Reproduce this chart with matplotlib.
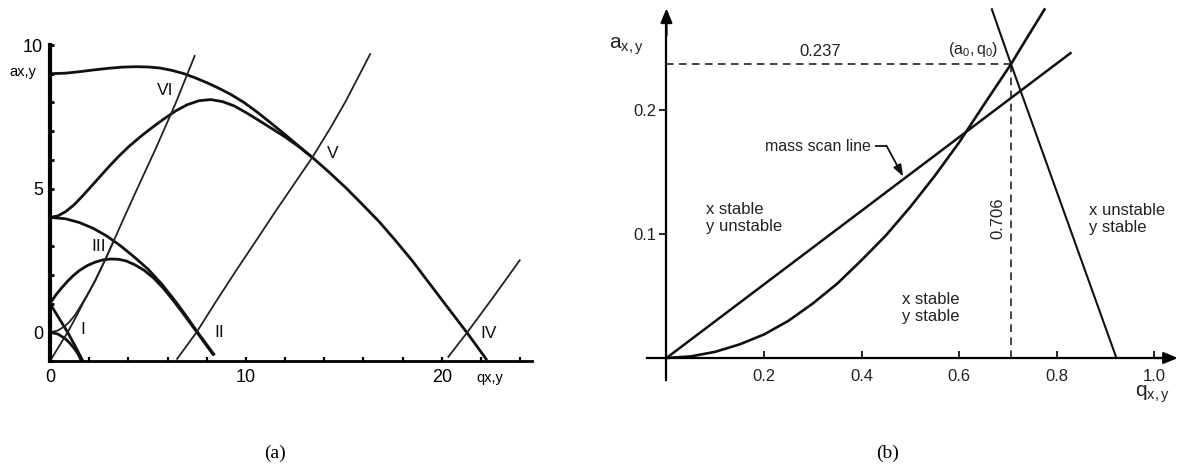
import matplotlib
matplotlib.use('Agg')
import matplotlib.pyplot as plt
import numpy as np

plt.rcParams['font.family'] = ['Liberation Sans', 'DejaVu Sans']
plt.rcParams['mathtext.fontset'] = 'custom'
plt.rcParams['mathtext.rm'] = 'Liberation Sans'
plt.rcParams['mathtext.it'] = 'Liberation Sans'

# ---------------- data: panel (a) Mathieu stability diagram ----------------
a0_q = [0, 0.4, 0.77, 1.0, 1.28, 1.45, 1.62]
a0_a = [0, -0.06, -0.22, -0.37, -0.6, -0.78, -1.03]
b1_q = [0, 0.45, 0.9, 1.3, 1.7]
b1_a = [1.0, 0.5, 0.0, -0.5, -1.03]
a1_q = [0, 0.3, 0.6, 0.9, 1.2, 1.5, 1.9, 2.3, 2.7, 3.1, 3.5, 3.9, 4.3, 4.8, 5.3,
        5.8, 6.3, 6.8, 7.5, 8.35]
a1_a = [1.0, 1.3, 1.55, 1.78, 1.98, 2.15, 2.32, 2.44, 2.52, 2.55, 2.54, 2.48, 2.36,
        2.16, 1.88, 1.52, 1.1, 0.65, 0.0, -0.8]
b2_q = [0, 0.8, 1.5, 2.2, 2.9, 3.6, 4.3, 5.0, 5.7, 6.4, 7.0, 7.5, 8.4]
b2_a = [4.0, 3.95, 3.82, 3.62, 3.35, 3.01, 2.62, 2.2, 1.68, 1.08, 0.52, 0.03, -0.8]
a2_q = [0, 0.4, 0.8, 1.2, 1.6, 2.0, 2.5, 3.0, 3.5, 4.0, 4.6, 5.2, 5.8, 6.4, 7.0, 7.6,
        8.2, 8.8, 9.4, 10.0, 10.6, 11.3, 12.0, 12.7, 13.4]
a2_a = [4.0, 4.05, 4.2, 4.42, 4.7, 5.0, 5.38, 5.76, 6.12, 6.45, 6.8, 7.12, 7.42, 7.7,
        7.92, 8.06, 8.1, 8.03, 7.88, 7.65, 7.4, 7.1, 6.8, 6.46, 6.08]
b3_q = [0, 0.8, 1.5, 2.2, 3.0, 3.7, 4.4, 5.0, 5.6, 6.2, 6.8, 7.4, 8.0, 8.6, 9.2, 9.9,
        10.6, 11.3, 12.0, 12.7, 13.4, 14.2, 15.1, 15.9, 16.8, 17.6, 18.5, 19.3, 20.2,
        21.3, 22.3]
b3_a = [9.0, 9.02, 9.07, 9.13, 9.19, 9.23, 9.245, 9.235, 9.2, 9.12, 9.01, 8.86, 8.69,
        8.5, 8.29, 8.0, 7.65, 7.27, 6.88, 6.48, 6.08, 5.6, 5.03, 4.48, 3.85, 3.22,
        2.48, 1.76, 0.95, -0.03, -0.97]
# mirrored (y-direction) boundaries
ma0_q = [0, 0.4, 0.77, 1.0, 1.28, 1.62, 2.0, 2.3, 2.8, 3.23, 3.8, 4.42, 5.4, 6.38, 7.4]
ma0_a = [0, 0.06, 0.22, 0.37, 0.6, 0.98, 1.42, 1.8, 2.5, 3.15, 4.02, 4.95, 6.4, 7.92,
         9.65]
mb1_q = [0, 0.45, 0.9, 1.3, 1.7, 2.3, 2.8, 3.23]
mb1_a = [-1.0, -0.5, 0.0, 0.5, 1.03, 1.78, 2.5, 3.15]
ma1_q = [6.46, 7.48, 8.5, 9.5, 10.5, 11.5, 12.5, 13.4, 14.3, 15.1, 16.36]
ma1_a = [-0.95, 0.0, 1.1, 2.15, 3.17, 4.2, 5.2, 6.1, 7.1, 8.05, 9.71]
ma2_q = [20.3, 21.3, 22.6, 24.0]
ma2_a = [-0.88, 0.0, 1.2, 2.53]
region_names = ['I', 'II', 'III', 'IV', 'V', 'VI']
region_q = [1.68, 8.62, 2.47, 22.4, 14.41, 5.87]
region_a = [0.1, -0.02, 2.97, -0.04, 6.23, 8.4]
a_xticks = [0, 2, 4, 6, 8, 10, 12, 14, 16, 18, 20, 22, 24]
a_xticklabels = ['0', '', '', '', '', '10', '', '', '', '', '20', '', '']
a_yticks = [-1, 0, 1, 2, 3, 4, 5, 6, 7, 8, 9, 10]
a_yticklabels = ['', '0', '', '', '', '', '5', '', '', '', '', '10']

# ---------------- data: panel (b) first stability region ----------------
xb_q = [0, 0.05, 0.1, 0.15, 0.2, 0.25, 0.3, 0.35, 0.4, 0.45, 0.5, 0.55, 0.6, 0.65,
        0.706, 0.74, 0.776]
xb_a = [0, 0.0013, 0.005, 0.011, 0.019, 0.030, 0.044, 0.060, 0.079, 0.099, 0.122,
        0.147, 0.174, 0.204, 0.237, 0.259, 0.282]
yb_q = [0.666, 0.706, 0.922]
yb_a = [0.282, 0.237, 0.0]
scan_q = [0, 0.83]
scan_a = [0, 0.2465]
apex_q, apex_a = 0.706, 0.237
b_xticks = [0.2, 0.4, 0.6, 0.8, 1.0]
b_xticklabels = ['0.2', '0.4', '0.6', '0.8', '1.0']
b_yticks = [0.1, 0.2]
b_yticklabels = ['0.1', '0.2']

W, H = 1180, 472
fig = plt.figure(figsize=(W / 100, H / 100), dpi=100)


def fx(px):
    return px / W


def fy(py):
    return 1 - py / H


# ======================= panel (a) =======================
axa = fig.add_axes([fx(50), fy(361), 482 / W, 316 / H])
axa.set_xlim(0, 24.6)
axa.set_ylim(-1, 10)
for s in ['top', 'right']:
    axa.spines[s].set_visible(False)
axa.spines['left'].set_linewidth(3)
axa.spines['bottom'].set_linewidth(2)
axa.set_xticks(a_xticks)
axa.set_xticklabels(a_xticklabels)
axa.set_yticks(a_yticks)
axa.set_yticklabels(a_yticklabels)
axa.tick_params(axis='x', direction='in', length=3, width=1.6, pad=6, labelsize=13)
axa.tick_params(axis='y', direction='in', length=3, width=2, pad=5, labelsize=13)

thick = dict(color='#111111', lw=2.0, solid_capstyle='butt', solid_joinstyle='round')
thin = dict(color='#222222', lw=1.3, solid_capstyle='butt', solid_joinstyle='round')
for q, a in [(a0_q, a0_a), (b1_q, b1_a), (a1_q, a1_a), (b2_q, b2_a), (a2_q, a2_a),
             (b3_q, b3_a)]:
    axa.plot(q, a, **thick)
for q, a in [(ma0_q, ma0_a), (mb1_q, mb1_a), (ma1_q, ma1_a), (ma2_q, ma2_a)]:
    axa.plot(q, a, **thin)
for name, q, a in zip(region_names, region_q, region_a):
    axa.text(q, a, name, fontsize=12.5, ha='center', va='center', color='#111111')

fig.text(fx(9), fy(72), 'ax,y', fontsize=10.5, ha='left', va='center')
fig.text(fx(476), fy(378), 'qx,y', fontsize=10.5, ha='left', va='center')
fig.text(fx(275), fy(453), '(a)', fontsize=14, ha='center', va='center',
         family='Liberation Serif')

# ======================= panel (b) =======================
axb = fig.add_axes([fx(644.5), fy(382.8), (1178.9 - 644.5) / W, (382.8 - 0.88) / H])
axb.set_xlim(-0.045, 1.05)
axb.set_ylim(-0.02, 0.288)
for s in ['top', 'right']:
    axb.spines[s].set_visible(False)
axb.spines['left'].set_position(('data', 0))
axb.spines['bottom'].set_position(('data', 0))
axb.spines['left'].set_bounds(-0.018, 0.27)
axb.spines['bottom'].set_bounds(-0.04, 1.03)
axb.spines['left'].set_linewidth(1.6)
axb.spines['bottom'].set_linewidth(1.6)
axb.set_xticks(b_xticks)
axb.set_xticklabels(b_xticklabels)
axb.set_yticks(b_yticks)
axb.set_yticklabels(b_yticklabels)
axb.tick_params(axis='x', direction='in', length=5, width=1.2, pad=8, labelsize=12,
                labelcolor='#222222')
axb.tick_params(axis='y', direction='out', length=5, width=1.2, pad=2, labelsize=12,
                labelcolor='#222222')
arrow_style = dict(arrowstyle='-|>,head_length=0.85,head_width=0.35', lw=1.6,
                   color='k', shrinkA=0, shrinkB=0)
axb.annotate('', xy=(1.048, 0), xytext=(1.0, 0), arrowprops=arrow_style)
axb.annotate('', xy=(0, 0.282), xytext=(0, 0.26), arrowprops=arrow_style)

axb.plot(xb_q, xb_a, color='#111111', lw=1.9, solid_capstyle='butt',
         solid_joinstyle='round')
axb.plot(yb_q, yb_a, color='#111111', lw=1.5, solid_capstyle='butt')
axb.plot(scan_q, scan_a, color='#111111', lw=1.8, solid_capstyle='butt')
axb.plot([0, apex_q], [apex_a, apex_a], color='#111111', lw=1.1, dashes=(5, 3.5))
axb.plot([apex_q, apex_q], [0, apex_a], color='#111111', lw=1.1, dashes=(5, 3.5))

tc = '#222222'
axb.text(0.3145, 0.247, '0.237', fontsize=12, ha='center', va='center', color=tc)
axb.text(0.628, 0.2485, r'$\mathregular{(a_0,q_0)}$', fontsize=11.5, ha='center',
         va='center', color=tc)
axb.text(0.680, 0.1126, '0.706', fontsize=12, ha='center', va='center', rotation=90,
         color=tc)
axb.text(0.310, 0.1704, 'mass scan line', fontsize=11.5, ha='center', va='center',
         color=tc)
axb.plot([0.4303, 0.4508], [0.1712, 0.1712], color='#111111', lw=1.3)
axb.annotate('', xy=(0.4852, 0.1462), xytext=(0.4508, 0.1712),
             arrowprops=dict(arrowstyle='-|>,head_length=0.7,head_width=0.25', lw=1.3,
                             color='#111111', shrinkA=0, shrinkB=0))
axb.text(0.081, 0.1129, 'x stable\ny unstable', fontsize=12, ha='left', va='center',
         linespacing=1.2, color=tc)
axb.text(0.4836, 0.0403, 'x stable\ny stable', fontsize=12, ha='left', va='center',
         linespacing=1.2, color=tc)
axb.text(0.8664, 0.1121, 'x unstable\ny stable', fontsize=12, ha='left', va='center',
         linespacing=1.2, color=tc)

fig.text(fx(609), fy(46), r'$\mathregular{a_{x,y}}$', fontsize=15, ha='left',
         va='center', color=tc)
fig.text(fx(1135), fy(397), r'$\mathregular{q_{x,y}}$', fontsize=15, ha='left',
         va='baseline', color=tc)
fig.text(fx(888), fy(453), '(b)', fontsize=14, ha='center', va='center',
         family='Liberation Serif')

fig.savefig('out.png', dpi=100)
